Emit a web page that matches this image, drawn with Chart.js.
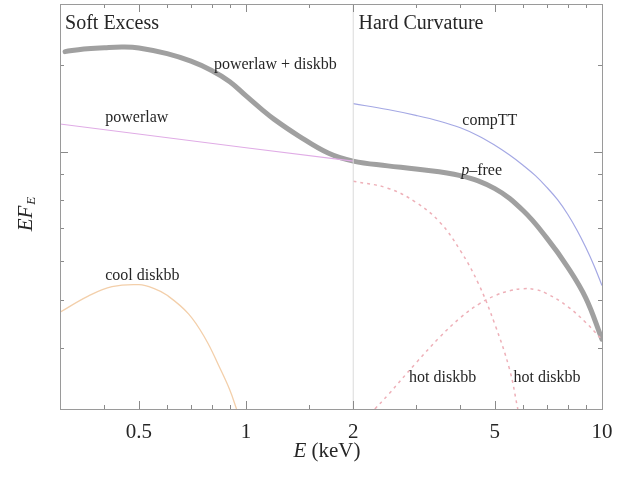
<!DOCTYPE html>
<html>
<head>
<meta charset="utf-8">
<script src="https://cdn.jsdelivr.net/npm/chart.js@4.4.1/dist/chart.umd.min.js"></script>
<style>
  html, body { margin: 0; padding: 0; background: #fff; }
  #wrap { width: 639px; height: 478px; }
</style>
</head>
<body>
<div id="wrap"><canvas id="c" width="639" height="478"></canvas></div>
<script>
// Photon energy grids (keV) and E·F_E values (arbitrary units) for each spectral component
const energyTotal = [0.31, 0.35, 0.4, 0.45, 0.5, 0.6, 0.7, 0.8, 0.9, 1.0, 1.1, 1.2, 1.4, 1.7, 2.0, 2.5, 3.0, 4.0, 5.0, 6.0, 7.0, 8.0, 9.0, 10.0];
const fluxTotal   = [1.60, 1.62, 1.63, 1.635, 1.628, 1.585, 1.53, 1.465, 1.39, 1.30, 1.225, 1.165, 1.08, 0.995, 0.958, 0.937, 0.923, 0.895, 0.842, 0.76, 0.668, 0.584, 0.505, 0.416];

const energyPowerlaw = [0.3, 1.0, 2.0];
const fluxPowerlaw   = [1.14, 1.02, 0.958];

const energyCompTT = [2.0, 2.5, 3.0, 3.5, 4.0, 4.5, 5.0, 5.5, 6.0, 6.5, 7.0, 7.5, 8.0, 8.5, 9.0, 9.5, 10.0];
const fluxCompTT   = [1.254, 1.22, 1.187, 1.155, 1.12, 1.078, 1.032, 0.986, 0.94, 0.895, 0.847, 0.80, 0.748, 0.694, 0.64, 0.587, 0.535];

const energyCoolDisk = [0.3, 0.36, 0.42, 0.5, 0.55, 0.6, 0.69, 0.77, 0.84, 0.9, 0.94];
const fluxCoolDisk   = [0.472, 0.509, 0.532, 0.537, 0.528, 0.511, 0.468, 0.416, 0.366, 0.328, 0.30];

const energyHotDiskA = [2.0, 2.5, 3.0, 3.5, 4.0, 4.5, 5.0, 5.5, 5.8];
const fluxHotDiskA   = [0.872, 0.844, 0.79, 0.72, 0.63, 0.539, 0.446, 0.361, 0.30];

const energyHotDiskB = [2.3, 2.5, 3.0, 3.5, 4.0, 4.5, 5.0, 5.5, 6.0, 6.5, 7.0, 8.0, 9.0, 10.0];
const fluxHotDiskB   = [0.30, 0.32, 0.372, 0.42, 0.46, 0.49, 0.51, 0.522, 0.527, 0.525, 0.515, 0.485, 0.45, 0.415];

// Boundary between the soft and hard bands
const bandSplitEnergy = 2.0;

// Axis ranges and labelled energies
const energyRange = [0.3, 10];
const fluxRange = [0.3, 2.0];
const tickValues = [0.5, 1, 2, 5, 10];
const tickLabels = ['0.5', '1', '2', '5', '10'];

// Text annotations anchored in data coordinates (energy, flux)
const notes = [
  { text: 'Soft Excess',       e: 0.31,  f: 1.82,  size: 20 },
  { text: 'Hard Curvature',    e: 2.07,  f: 1.82,  size: 20 },
  { text: 'powerlaw + diskbb', e: 0.812, f: 1.507, size: 16 },
  { text: 'powerlaw',          e: 0.402, f: 1.174, size: 16 },
  { text: 'compTT',            e: 4.05,  f: 1.157, size: 16 },
  { text: 'cool diskbb',       e: 0.402, f: 0.56,  size: 16 },
  { text: 'hot diskbb',        e: 2.87,  f: 0.348, size: 16 },
  { text: 'hot diskbb',        e: 5.64,  f: 0.348, size: 16 }
];
const pFreeNote = { e: 4.02, f: 0.914, size: 16 };

const SERIF = '"Liberation Serif", "Times New Roman", serif';

function pts(xs, ys) { return xs.map((x, i) => ({ x: x, y: ys[i] })); }

function isLabelled(v) {
  return tickValues.some(t => Math.abs(v - t) / t < 1e-6);
}

// Inward tick marks on all four sides plus the surrounding frame
const frameTicks = {
  id: 'frameTicks',
  afterDatasetsDraw(chart) {
    const { ctx, chartArea: a, scales } = chart;
    ctx.save();
    ctx.strokeStyle = '#8a8a8a';
    ctx.lineWidth = 1;
    ctx.beginPath();
    scales.x.ticks.forEach(t => {
      const px = Math.round(scales.x.getPixelForValue(t.value)) + 0.5;
      const len = isLabelled(t.value) ? 8 : 4;
      ctx.moveTo(px, a.bottom); ctx.lineTo(px, a.bottom - len);
      ctx.moveTo(px, a.top);    ctx.lineTo(px, a.top + len);
    });
    scales.y.ticks.forEach(t => {
      const py = Math.round(scales.y.getPixelForValue(t.value)) + 0.5;
      const major = Math.abs(Math.log10(t.value) - Math.round(Math.log10(t.value))) < 1e-6;
      const len = major ? 8 : 4;
      ctx.moveTo(a.left, py);  ctx.lineTo(a.left + len, py);
      ctx.moveTo(a.right, py); ctx.lineTo(a.right - len, py);
    });
    ctx.stroke();
    ctx.strokeStyle = '#9a9a9a';
    ctx.strokeRect(Math.round(a.left) + 0.5, Math.round(a.top) + 0.5,
                   Math.round(a.right - a.left), Math.round(a.bottom - a.top));
    ctx.restore();
  }
};

// Curve labels, band headings and axis titles
const annotations = {
  id: 'annotations',
  afterDraw(chart) {
    const { ctx, chartArea: a, scales } = chart;
    ctx.save();
    ctx.fillStyle = '#262626';
    ctx.textBaseline = 'middle';
    ctx.textAlign = 'left';
    notes.forEach(n => {
      ctx.font = n.size + 'px ' + SERIF;
      ctx.fillText(n.text, scales.x.getPixelForValue(n.e), scales.y.getPixelForValue(n.f));
    });
    // p–free, with an italic p
    let px = scales.x.getPixelForValue(pFreeNote.e);
    const py = scales.y.getPixelForValue(pFreeNote.f);
    ctx.font = 'italic ' + pFreeNote.size + 'px ' + SERIF;
    ctx.fillText('p', px, py);
    px += ctx.measureText('p').width;
    ctx.font = pFreeNote.size + 'px ' + SERIF;
    ctx.fillText('\u2013free', px, py);

    // x-axis title: E (keV)
    const cx = (a.left + a.right) / 2 - 4;
    const ty = 451;
    ctx.font = 'italic 21px ' + SERIF;
    const wE = ctx.measureText('E').width;
    ctx.font = '21px ' + SERIF;
    const wRest = ctx.measureText(' (keV)').width;
    const sx = cx - (wE + wRest) / 2;
    ctx.font = 'italic 21px ' + SERIF;
    ctx.fillText('E', sx, ty);
    ctx.font = '21px ' + SERIF;
    ctx.fillText(' (keV)', sx + wE, ty);

    // y-axis title: EF_E, rotated
    ctx.translate(26, (a.top + a.bottom) / 2 + 8);
    ctx.rotate(-Math.PI / 2);
    ctx.font = 'italic 21px ' + SERIF;
    const wEF = ctx.measureText('EF').width;
    ctx.font = 'italic 13px ' + SERIF;
    const wSub = ctx.measureText('E').width;
    const start = -(wEF + wSub) / 2;
    ctx.font = 'italic 21px ' + SERIF;
    ctx.fillText('EF', start, 0);
    ctx.font = 'italic 13px ' + SERIF;
    ctx.fillText('E', start + wEF + 1, 6);
    ctx.restore();
  }
};

const thin = { fill: false, pointRadius: 0, tension: 0.4 };

new Chart(document.getElementById('c'), {
  type: 'line',
  data: {
    datasets: [
      Object.assign({ label: 'band split', data: pts([bandSplitEnergy, bandSplitEnergy], fluxRange),
        borderColor: '#dadada', borderWidth: 1, tension: 0 }, { fill: false, pointRadius: 0 }),
      Object.assign({ label: 'cool diskbb', data: pts(energyCoolDisk, fluxCoolDisk),
        borderColor: '#f3cfaa', borderWidth: 1.3 }, thin),
      Object.assign({ label: 'hot diskbb A', data: pts(energyHotDiskA, fluxHotDiskA),
        borderColor: '#eeb0b8', borderWidth: 1.5, borderDash: [3, 4] }, thin),
      Object.assign({ label: 'hot diskbb B', data: pts(energyHotDiskB, fluxHotDiskB),
        borderColor: '#eeb0b8', borderWidth: 1.5, borderDash: [3, 4] }, thin),
      Object.assign({ label: 'powerlaw', data: pts(energyPowerlaw, fluxPowerlaw),
        borderColor: '#e0acE6', borderWidth: 1.2, tension: 0 }, { fill: false, pointRadius: 0 }),
      Object.assign({ label: 'compTT', data: pts(energyCompTT, fluxCompTT),
        borderColor: '#a4a8e4', borderWidth: 1.2 }, thin),
      Object.assign({ label: 'total', data: pts(energyTotal, fluxTotal),
        borderColor: '#a0a0a0', borderWidth: 5, borderCapStyle: 'round' }, thin)
    ]
  },
  options: {
    responsive: false,
    animation: false,
    layout: { padding: { top: 4, right: 37, left: 0, bottom: 0 } },
    plugins: { legend: { display: false }, tooltip: { enabled: false } },
    scales: {
      x: {
        type: 'logarithmic', min: energyRange[0], max: energyRange[1],
        grid: { display: false, drawTicks: false }, border: { display: false },
        ticks: {
          autoSkip: false, maxRotation: 0, minRotation: 0, padding: 11, color: '#262626',
          font: { family: SERIF, size: 21 },
          callback: v => {
            const i = tickValues.findIndex(t => Math.abs(v - t) / t < 1e-6);
            return i >= 0 ? tickLabels[i] : '';
          }
        },
        afterFit(s) { s.height = 69; }
      },
      y: {
        type: 'logarithmic', min: fluxRange[0], max: fluxRange[1],
        grid: { display: false, drawTicks: false }, border: { display: false },
        ticks: { display: false },
        afterFit(s) { s.width = 60; }
      }
    }
  },
  plugins: [frameTicks, annotations]
});
</script>
</body>
</html>
